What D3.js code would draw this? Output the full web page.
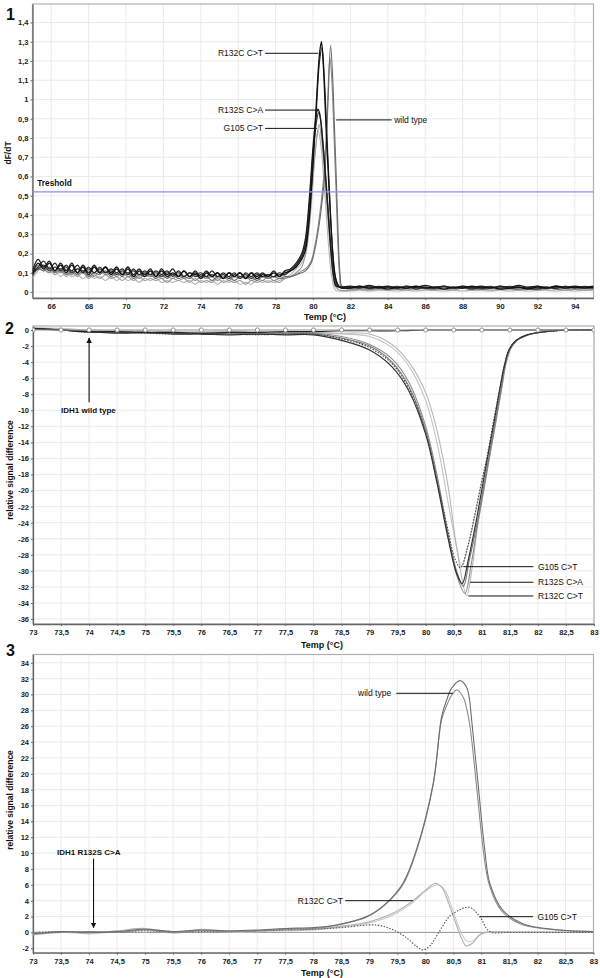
<!DOCTYPE html>
<html><head><meta charset="utf-8">
<script src="https://cdn.jsdelivr.net/npm/d3@7"></script>
<style>
body{margin:0;background:#fff}
svg{display:block}
text{font-family:"Liberation Sans",Arial,Helvetica,sans-serif}
</style>
</head><body>
<svg id="c" width="600" height="978"></svg>
<script>
// ================= DATA =================
// ---- Panel 1 : dF/dT melting peaks ----
const p1XTicks = [66,68,70,72,74,76,78,80,82,84,86,88,90,92,94];
const p1YTicks = [0,0.1,0.2,0.3,0.4,0.5,0.6,0.7,0.8,0.9,1,1.1,1.2,1.3,1.4];
const p1Threshold = 0.52;
const p1BaseStart = 65, p1BaseStep = 0.3;   // baseline samples: 65.0, 65.3 ... 79.4
const p1TailStart = 82, p1TailStep = 0.5;   // tail samples: 82.0 ... 95.0
const p1Names = ["R132C a","R132C b","wt a","wt b","R132S a","R132S b","G105 a","G105 b"];
const p1Base = [
 [0.09,0.15,0.12,0.15,0.11,0.14,0.10,0.14,0.10,0.13,0.09,0.13,0.10,0.13,0.09,0.12,0.09,0.12,0.08,0.11,0.08,0.11,0.08,0.11,0.08,0.10,0.08,0.11,0.08,0.10,0.07,0.10,0.08,0.10,0.07,0.10,0.08,0.10,0.07,0.10,0.07,0.09,0.08,0.10,0.08,0.10,0.11,0.13,0.17],
 [0.10,0.13,0.16,0.12,0.15,0.11,0.14,0.11,0.14,0.10,0.13,0.10,0.13,0.10,0.12,0.10,0.12,0.09,0.12,0.09,0.11,0.09,0.11,0.09,0.11,0.08,0.11,0.08,0.10,0.09,0.10,0.08,0.11,0.08,0.10,0.08,0.10,0.07,0.10,0.08,0.10,0.08,0.09,0.08,0.10,0.09,0.12,0.14,0.19],
 [0.08,0.12,0.11,0.13,0.10,0.12,0.09,0.11,0.09,0.11,0.08,0.10,0.09,0.11,0.08,0.10,0.08,0.10,0.07,0.09,0.08,0.09,0.07,0.09,0.07,0.09,0.07,0.08,0.07,0.09,0.07,0.08,0.06,0.08,0.07,0.08,0.06,0.08,0.07,0.08,0.06,0.08,0.07,0.08,0.07,0.08,0.08,0.09,0.10],
 [0.09,0.14,0.12,0.10,0.13,0.10,0.12,0.09,0.12,0.10,0.11,0.08,0.11,0.09,0.10,0.08,0.10,0.08,0.09,0.07,0.09,0.08,0.09,0.07,0.08,0.07,0.09,0.07,0.08,0.06,0.08,0.07,0.08,0.06,0.08,0.06,0.08,0.07,0.08,0.06,0.07,0.06,0.08,0.06,0.07,0.07,0.08,0.09,0.11],
 [0.11,0.17,0.13,0.16,0.11,0.15,0.11,0.15,0.10,0.14,0.10,0.14,0.10,0.13,0.10,0.13,0.09,0.13,0.09,0.12,0.09,0.12,0.08,0.12,0.09,0.12,0.08,0.11,0.08,0.11,0.08,0.11,0.08,0.10,0.07,0.10,0.08,0.10,0.07,0.10,0.08,0.10,0.08,0.11,0.08,0.11,0.12,0.15,0.20],
 [0.10,0.12,0.14,0.11,0.13,0.12,0.13,0.10,0.12,0.11,0.12,0.10,0.12,0.10,0.11,0.09,0.11,0.10,0.11,0.09,0.10,0.09,0.10,0.08,0.10,0.09,0.10,0.08,0.10,0.08,0.09,0.08,0.09,0.08,0.09,0.07,0.09,0.08,0.09,0.07,0.09,0.08,0.09,0.08,0.09,0.09,0.11,0.14,0.18],
 [0.08,0.13,0.11,0.12,0.09,0.11,0.08,0.10,0.08,0.10,0.07,0.09,0.07,0.09,0.07,0.08,0.06,0.08,0.06,0.08,0.06,0.07,0.06,0.07,0.05,0.07,0.06,0.07,0.05,0.07,0.05,0.06,0.05,0.07,0.05,0.06,0.05,0.06,0.04,0.06,0.05,0.06,0.05,0.06,0.05,0.07,0.08,0.10,0.13],
 [0.07,0.11,0.13,0.10,0.11,0.08,0.10,0.08,0.09,0.07,0.09,0.07,0.08,0.06,0.08,0.06,0.08,0.06,0.07,0.05,0.07,0.06,0.07,0.05,0.06,0.05,0.06,0.05,0.06,0.04,0.06,0.05,0.06,0.04,0.06,0.05,0.06,0.04,0.05,0.04,0.06,0.05,0.06,0.05,0.06,0.07,0.09,0.12,0.15]
];
const p1Peak = [
 [[79.6,0.22],[79.8,0.38],[80.0,0.68],[80.2,1.02],[80.35,1.24],[80.45,1.30],[80.55,1.18],[80.7,0.85],[80.85,0.55],[81.0,0.28],[81.15,0.10],[81.3,0.04],[81.45,0.025]],
 [[79.6,0.24],[79.8,0.40],[80.0,0.66],[80.2,0.98],[80.35,1.20],[80.48,1.27],[80.6,1.12],[80.75,0.80],[80.9,0.48],[81.05,0.22],[81.2,0.08],[81.35,0.035],[81.5,0.02]],
 [[79.6,0.11],[79.9,0.15],[80.1,0.22],[80.3,0.33],[80.5,0.48],[80.65,0.64],[80.8,0.98],[80.94,1.28],[81.05,1.12],[81.15,0.85],[81.25,0.58],[81.35,0.28],[81.45,0.09],[81.55,0.03]],
 [[79.6,0.12],[79.9,0.16],[80.1,0.24],[80.3,0.36],[80.5,0.52],[80.65,0.70],[80.78,0.98],[80.9,1.22],[81.02,1.08],[81.12,0.82],[81.22,0.56],[81.32,0.28],[81.42,0.09],[81.52,0.025]],
 [[79.6,0.28],[79.8,0.48],[80.0,0.75],[80.15,0.90],[80.26,0.95],[80.35,0.93],[80.5,0.80],[80.65,0.62],[80.8,0.42],[80.95,0.22],[81.1,0.08],[81.25,0.03]],
 [[79.6,0.26],[79.8,0.45],[80.0,0.72],[80.18,0.88],[80.3,0.93],[80.4,0.90],[80.55,0.76],[80.7,0.58],[80.85,0.38],[81.0,0.19],[81.15,0.07],[81.3,0.03]],
 [[79.6,0.20],[79.8,0.36],[80.0,0.60],[80.2,0.80],[80.33,0.87],[80.45,0.80],[80.6,0.64],[80.75,0.45],[80.9,0.26],[81.05,0.10],[81.2,0.03],[81.4,0.01]],
 [[79.6,0.19],[79.8,0.33],[80.0,0.57],[80.15,0.76],[80.27,0.84],[80.4,0.78],[80.55,0.62],[80.7,0.42],[80.85,0.22],[81.0,0.08],[81.2,0.01],[81.4,0.005]]
];
const p1Tail = [
 [0.02,0.03,0.02,0.025,0.015,0.025,0.02,0.03,0.02,0.025,0.015,0.025,0.02,0.03,0.02,0.025,0.015,0.02,0.025,0.015,0.025,0.02,0.03,0.02,0.025,0.02,0.025],
 [0.025,0.02,0.03,0.02,0.025,0.02,0.03,0.015,0.025,0.02,0.03,0.02,0.025,0.015,0.025,0.02,0.03,0.02,0.025,0.02,0.015,0.025,0.02,0.03,0.02,0.025,0.02],
 [0.02,0.025,0.015,0.02,0.025,0.015,0.02,0.025,0.02,0.015,0.025,0.02,0.02,0.025,0.015,0.02,0.025,0.02,0.015,0.025,0.02,0.025,0.015,0.02,0.025,0.02,0.02],
 [0.015,0.02,0.025,0.015,0.02,0.025,0.02,0.015,0.02,0.025,0.015,0.02,0.025,0.02,0.015,0.025,0.02,0.015,0.02,0.025,0.02,0.015,0.025,0.02,0.015,0.02,0.025],
 [0.03,0.025,0.035,0.025,0.03,0.02,0.03,0.025,0.035,0.025,0.03,0.02,0.03,0.025,0.03,0.02,0.03,0.025,0.035,0.025,0.03,0.02,0.03,0.025,0.03,0.025,0.03],
 [0.025,0.03,0.02,0.03,0.025,0.03,0.02,0.03,0.025,0.02,0.03,0.025,0.03,0.02,0.025,0.03,0.02,0.03,0.025,0.02,0.03,0.025,0.02,0.03,0.025,0.03,0.025],
 [0.01,0.015,0.01,0.02,0.01,0.015,0.01,0.02,0.015,0.01,0.015,0.01,0.02,0.01,0.015,0.01,0.015,0.02,0.01,0.015,0.01,0.02,0.015,0.01,0.015,0.01,0.015],
 [0.005,0.01,0.005,0.01,0.008,0.005,0.01,0.005,0.01,0.008,0.005,0.01,0.005,0.01,0.008,0.005,0.01,0.005,0.01,0.005,0.008,0.01,0.005,0.01,0.005,0.01,0.008]
];
const p1Labels = [
 {text:"R132C  C>T", t0:77.33, t1:80.28, v:1.24, side:"left"},
 {text:"R132S C>A",  t0:77.33, t1:80.29, v:0.945, side:"left"},
 {text:"G105 C>T",   t0:77.33, t1:80.21, v:0.85, side:"left"},
 {text:"wild type",  t0:84.34, t1:81.24, v:0.894, side:"right"}
];

// ---- Panel 2 : difference plot normalised to IDH1 wild type ----
const p23XTicks = [73,73.5,74,74.5,75,75.5,76,76.5,77,77.5,78,78.5,79,79.5,80,80.5,81,81.5,82,82.5,83];
const p2YTicks = [0,-2,-4,-6,-8,-10,-12,-14,-16,-18,-20,-22,-24,-26,-28,-30,-32,-34,-36];
const p2BaseStart = 73, p2BaseStep = 0.5;   // baseline samples 73.0 ... 77.5
const p2RefT = [73,73.5,74,74.5,75,75.5,76,76.5,77,77.5,78,78.5,79,79.5,80,80.5,81,81.5,82,82.5,83];
const p2RefV = [0,0,0,0,0,0,0,0,0,0,0,0,0,0,0,0,0,0,0,0,0];
const p2WtV  = [0.2,0.0,-0.2,-0.2,-0.3,-0.3,-0.4,-0.3,-0.3,-0.2,-0.2,-0.1,-0.1,-0.1,0,0,0,0,0,0,0];
const p2Base = [
 [0.2,0.1,-0.1,-0.2,-0.2,-0.3,-0.3,-0.2,-0.3,-0.3],
 [0.1,0.0,-0.3,-0.3,-0.4,-0.4,-0.5,-0.4,-0.5,-0.5],
 [0.2,0.0,-0.2,-0.4,-0.3,-0.5,-0.5,-0.6,-0.5,-0.6],
 [0.1,0.1,-0.2,-0.2,-0.3,-0.3,-0.4,-0.3,-0.4,-0.4],
 [0.3,0.2,0.0,-0.1,-0.1,-0.2,-0.2,-0.1,-0.2,-0.2],
 [0.2,0.0,-0.3,-0.3,-0.4,-0.5,-0.4,-0.5,-0.6,-0.5]
];
const p2Dip = [
 [[78,-0.3],[78.5,-0.4],[79,-0.5],[79.4,-1.8],[79.7,-4.0],[80.0,-7.8],[80.2,-12.5],[80.4,-19.5],[80.55,-27],[80.73,-33.1],[80.83,-29.5],[80.93,-24.2],[81.04,-19.8],[81.13,-16.2],[81.26,-11.1],[81.36,-7.1],[81.43,-4.2],[81.51,-2.4],[81.63,-1.3],[81.79,-0.7],[81.95,-0.4],[82.57,0],[83,0]],
 [[78,-0.5],[78.5,-1.0],[79,-2.0],[79.4,-4.0],[79.7,-7.0],[80.0,-12.5],[80.2,-18.5],[80.4,-25.5],[80.55,-30.0],[80.67,-31.9],[80.78,-28.6],[80.92,-23.9],[81.03,-19.6],[81.12,-16.1],[81.25,-11.0],[81.35,-7.0],[81.42,-4.2],[81.5,-2.4],[81.62,-1.3],[81.78,-0.7],[81.94,-0.4],[82.57,0],[83,0]],
 [[78,-0.6],[78.5,-1.3],[79,-2.5],[79.4,-4.6],[79.7,-7.6],[80.0,-13],[80.2,-19],[80.4,-26],[80.55,-30.3],[80.65,-31.6],[80.76,-28.6],[80.9,-23.8],[81.01,-19.5],[81.1,-16],[81.23,-11],[81.33,-7.0],[81.41,-4.2],[81.49,-2.4],[81.61,-1.3],[81.77,-0.7],[81.93,-0.4],[82.57,0],[83,0]],
 [[78,-0.4],[78.5,-0.8],[79,-1.8],[79.4,-3.6],[79.7,-6.5],[80.0,-12],[80.2,-18],[80.4,-25.5],[80.55,-30.5],[80.7,-32.8],[80.81,-29.2],[80.93,-24],[81.04,-19.7],[81.13,-16.1],[81.26,-11],[81.36,-7.0],[81.43,-4.2],[81.51,-2.4],[81.63,-1.3],[81.79,-0.7],[81.95,-0.4],[82.57,0],[83,0]],
 [[78,-0.3],[78.5,-0.5],[79,-0.8],[79.4,-2.2],[79.7,-4.5],[80.0,-8.8],[80.2,-14],[80.4,-21.5],[80.55,-27],[80.64,-29.5],[80.76,-26.8],[80.88,-23],[81.0,-19],[81.1,-15.8],[81.23,-10.9],[81.33,-7.0],[81.41,-4.2],[81.49,-2.4],[81.61,-1.3],[81.77,-0.7],[81.93,-0.4],[82.57,0],[83,0]],
 [[78,-0.5],[78.5,-1.1],[79,-2.2],[79.4,-4.2],[79.7,-7.3],[80.0,-12.8],[80.2,-18.8],[80.4,-25],[80.52,-28.5],[80.62,-29.6],[80.74,-27.2],[80.87,-23.2],[80.99,-19.1],[81.09,-15.9],[81.22,-10.9],[81.33,-7.0],[81.41,-4.2],[81.49,-2.4],[81.61,-1.3],[81.77,-0.7],[81.93,-0.4],[82.57,0],[83,0]]
];
const p2Labels = [
 {text:"G105 C>T",  t0:82.0, t1:80.67, v:-29.48},
 {text:"R132S C>A", t0:82.0, t1:80.79, v:-31.42},
 {text:"R132C C>T", t0:82.0, t1:80.76, v:-33.13}
];

// ---- Panel 3 : difference plot normalised to IDH1 R132S C>A ----
const p3YTicks = [-2,0,2,4,6,8,10,12,14,16,18,20,22,24,26,28,30,32,34];
const p3RefV = [0,0,0,0,0,0,0,0,0,0,0,0,0,0,0,0,0,0,0,0,0];
const p3Base = [
 [-0.2,0.1,0.0,0.1,0.4,0.1,0.3,0.2,0.3,0.5],
 [-0.1,0.0,0.1,0.0,0.3,0.0,0.2,0.1,0.2,0.4],
 [-0.3,0.0,-0.1,0.2,0.5,0.0,0.4,0.1,0.2,0.3],
 [-0.2,0.1,-0.2,0.1,0.4,-0.1,0.3,0.0,0.1,0.2],
 [0.0,0.1,0.0,0.0,0.2,0.0,0.1,0.1,0.2,0.3]
];
const p3Main = [
 [[78,0.6],[78.41,0.93],[78.95,2.0],[79.3,3.67],[79.6,6.2],[79.84,10.4],[80.14,18.8],[80.29,27.2],[80.38,29.3],[80.47,30.8],[80.62,31.74],[80.73,31.0],[80.79,29.3],[80.82,27.2],[80.94,18.8],[81.06,10.4],[81.15,6.2],[81.38,2.8],[81.74,1.1],[82.39,0.3],[83,0.1]],
 [[78,0.5],[78.41,0.9],[78.95,1.9],[79.3,3.6],[79.6,6.0],[79.84,10.2],[80.14,18.6],[80.29,26.8],[80.38,28.6],[80.47,29.9],[80.56,30.57],[80.68,29.6],[80.75,27.8],[80.8,25.8],[80.92,18.0],[81.04,10.0],[81.14,6.0],[81.36,2.7],[81.72,1.0],[82.39,0.3],[83,0.1]],
 [[78,0.4],[78.41,0.7],[79.0,1.35],[79.42,2.4],[79.78,4.0],[80.0,5.3],[80.18,6.19],[80.3,5.6],[80.42,3.6],[80.55,1.0],[80.65,-0.8],[80.73,-1.7],[80.85,-1.3],[80.95,-0.4],[81.05,0],[81.5,0.05],[83,0]],
 [[78,0.3],[78.41,0.6],[79.0,1.2],[79.42,2.2],[79.78,3.8],[80.0,5.2],[80.22,6.0],[80.35,5.3],[80.47,3.2],[80.6,0.6],[80.7,-0.8],[80.78,-1.2],[80.88,-0.9],[80.98,-0.3],[81.1,0],[81.5,0.05],[83,0]],
 [[78,0.4],[78.5,0.6],[79.13,0.93],[79.4,0.4],[79.65,-0.6],[79.85,-1.8],[79.96,-2.2],[80.08,-1.7],[80.24,0],[80.43,2.0],[80.6,2.8],[80.79,3.16],[80.97,2.0],[81.15,0.1],[81.5,0],[83,0]]
];
const p3Labels = [
 {text:"wild type", t0:79.39, t1:80.49, v:30.15, side:"left", t0line:79.48},
 {text:"R132C C>T", t0:78.53, t1:79.78, v:4.0,  side:"left", t0line:78.57},
 {text:"G105 C>T",  t0:82.0,  t1:80.97, v:1.98, side:"right", t0line:81.92}
];

// ================= DRAWING =================
const svg = d3.select("#c");
const comma = v => String(v).replace(".", ",");
const FONT = '"Liberation Sans",Arial,sans-serif';

function makePanel(o){
  const x = d3.scaleLinear().domain(o.xd).range([o.l, o.r]);
  const y = d3.scaleLinear().domain(o.yd).range([o.b, o.t]);
  const g = svg.append("g");
  const cid = "clip" + o.id;
  svg.append("defs").append("clipPath").attr("id", cid)
     .append("rect").attr("x", o.l).attr("y", o.t).attr("width", o.r - o.l).attr("height", o.b - o.t);
  g.append("g").selectAll("line").data(o.xt).join("line")
    .attr("x1", d => x(d)).attr("x2", d => x(d)).attr("y1", o.t).attr("y2", o.b)
    .attr("stroke", "#ebebeb").attr("stroke-width", 1);
  g.append("g").selectAll("line").data(o.yt).join("line")
    .attr("y1", d => y(d)).attr("y2", d => y(d)).attr("x1", o.l).attr("x2", o.r)
    .attr("stroke", "#ebebeb").attr("stroke-width", 1);
  g.append("rect").attr("x", o.l).attr("y", o.t).attr("width", o.r - o.l).attr("height", o.b - o.t)
    .attr("fill", "none").attr("stroke", "#b0b0b0").attr("stroke-width", 1.2);
  const ax = g.append("g").attr("transform", `translate(0,${o.b})`)
    .call(d3.axisBottom(x).tickValues(o.xt).tickFormat(comma).tickSize(2).tickSizeOuter(0).tickPadding(4));
  const ay = g.append("g").attr("transform", `translate(${o.l},0)`)
    .call(d3.axisLeft(y).tickValues(o.yt).tickFormat(comma).tickSize(2).tickSizeOuter(0).tickPadding(2));
  [ax, ay].forEach(a => {
    a.select(".domain").attr("stroke", "#666").attr("stroke-width", 1.3);
    a.selectAll(".tick line").attr("stroke", "#666");
    a.selectAll("text").attr("font-family", FONT).attr("font-size", 7.5).attr("font-weight", "bold").attr("fill", "#222");
  });
  const plot = svg.append("g").attr("clip-path", `url(#${cid})`);
  const line = d3.line().x(d => x(d[0])).y(d => y(d[1])).curve(d3.curveCatmullRom.alpha(0.5));
  return {x, y, g, plot, line};
}

function label(sel, txt, x, y, anchor, opts = {}){
  sel.append("text").attr("x", x).attr("y", y).attr("text-anchor", anchor)
    .attr("font-family", FONT).attr("font-size", opts.size || 8.5)
    .attr("font-weight", opts.bold ? "bold" : "normal").attr("fill", opts.fill || "#111")
    .text(txt);
}

svg.append("defs").append("marker").attr("id", "arr").attr("viewBox", "0 0 10 10")
  .attr("refX", 9).attr("refY", 5).attr("markerWidth", 5).attr("markerHeight", 6).attr("orient", "auto")
  .append("path").attr("d", "M0,0L10,5L0,10Z").attr("fill", "#111");

// ---------- Panel 1 ----------
const P1 = makePanel({id:1, xd:[65,95], yd:[-0.031,1.496], l:32.5, r:593.5, t:4, b:298, xt:p1XTicks, yt:p1YTicks});
const p1Style = [
  {c:"#111", w:1.3},{c:"#2a2a2a", w:1.2},{c:"#6a6a6a", w:1.1},{c:"#888", w:1.1},
  {c:"#1c1c1c", w:1.3},{c:"#3c3c3c", w:1.2},{c:"#9a9a9a", w:1.1},{c:"#b5b5b5", w:1.1}
];
const p1Series = p1Names.map((n, k) => {
  const pk = p1Peak[k];
  const base = p1Base[k].map((v, i) => [p1BaseStart + p1BaseStep * i, v]).filter(p => p[0] < pk[0][0] - 0.05);
  const tail = p1Tail[k].map((v, i) => [p1TailStart + p1TailStep * i, v]).filter(p => p[0] > pk[pk.length - 1][0] + 0.1);
  return base.concat(pk, tail);
});
[7,6,3,2,5,4,1,0].forEach(k => {
  P1.plot.append("path").datum(p1Series[k]).attr("d", P1.line)
    .attr("fill", "none").attr("stroke", p1Style[k].c).attr("stroke-width", p1Style[k].w);
});
P1.plot.append("line").attr("x1", P1.x(65)).attr("x2", P1.x(95))
  .attr("y1", P1.y(p1Threshold)).attr("y2", P1.y(p1Threshold))
  .attr("stroke", "#8f8ff0").attr("stroke-width", 1.3);
label(svg, "Treshold", P1.x(65.25), P1.y(p1Threshold) - 5.5, "start", {bold:true, size:8.3});
p1Labels.forEach(L => {
  const yy = P1.y(L.v);
  if (L.side === "left") {
    svg.append("line").attr("x1", P1.x(L.t0) + 2).attr("x2", P1.x(L.t1)).attr("y1", yy).attr("y2", yy).attr("stroke", "#111").attr("stroke-width", 1);
    label(svg, L.text, P1.x(L.t0), yy + 3, "end");
  } else {
    svg.append("line").attr("x1", P1.x(L.t1)).attr("x2", P1.x(L.t0) - 2.5).attr("y1", yy).attr("y2", yy).attr("stroke", "#111").attr("stroke-width", 1);
    label(svg, L.text, P1.x(L.t0), yy + 3, "start");
  }
});
label(svg, "Temp (°C)", 325, 320, "middle", {bold:true, size:9});
svg.append("text").attr("transform", "translate(11,153) rotate(-90)").attr("text-anchor", "middle")
  .attr("font-family", FONT).attr("font-size", 8.5).attr("font-weight", "bold").attr("fill", "#111").text("dF/dT");
label(svg, "1", 6, 20, "start", {bold:true, size:16});

// ---------- Panel 2 ----------
const P2 = makePanel({id:2, xd:[73,83], yd:[-36.62,0.5], l:33, r:594, t:326, b:624, xt:p23XTicks, yt:p2YTicks});
const p2Style = [
  {c:"#b8b8b8", w:1.1, d:null},{c:"#7a7a7a", w:1.1, d:null},{c:"#333", w:1.2, d:null},
  {c:"#8c8c8c", w:1.1, d:null},{c:"#c4c4c4", w:1.1, d:null},{c:"#444", w:1.1, d:"1.5,1.5"}
];
const p2Series = p2Dip.map((dip, k) => p2Base[k].map((v, i) => [p2BaseStart + p2BaseStep * i, v]).concat(dip));
[4,0,3,1,5,2].forEach(k => {
  P2.plot.append("path").datum(p2Series[k]).attr("d", P2.line)
    .attr("fill", "none").attr("stroke", p2Style[k].c).attr("stroke-width", p2Style[k].w)
    .attr("stroke-dasharray", p2Style[k].d);
});
const p2Wt = p2RefT.map((t, i) => [t, p2WtV[i]]);
P2.plot.append("path").datum(p2Wt).attr("d", P2.line).attr("fill", "none").attr("stroke", "#222").attr("stroke-width", 1.1);
const p2Ref = p2RefT.map((t, i) => [t, p2RefV[i]]);
P2.plot.append("path").datum(p2Ref).attr("d", P2.line).attr("fill", "none").attr("stroke", "#999").attr("stroke-width", 1);
P2.plot.selectAll("circle.ref").data(p2Ref).join("circle").attr("class", "ref")
  .attr("cx", d => P2.x(d[0])).attr("cy", d => P2.y(d[1])).attr("r", 2.1)
  .attr("fill", "#fff").attr("stroke", "#888").attr("stroke-width", 0.9);
p2Labels.forEach(L => {
  const yy = P2.y(L.v);
  svg.append("line").attr("x1", P2.x(L.t1)).attr("x2", P2.x(L.t0) - 4.5).attr("y1", yy).attr("y2", yy).attr("stroke", "#111").attr("stroke-width", 1);
  label(svg, L.text, P2.x(L.t0), yy + 3, "start");
});
svg.append("line").attr("x1", P2.x(74)).attr("x2", P2.x(74)).attr("y1", P2.y(-9)).attr("y2", P2.y(-1))
  .attr("stroke", "#111").attr("stroke-width", 1.1).attr("marker-end", "url(#arr)");
label(svg, "IDH1 wild type", P2.x(73.5), P2.y(-10.3), "start", {bold:true, size:8});
label(svg, "Temp (°C)", 322, 648, "middle", {bold:true, size:9});
svg.append("text").attr("transform", "translate(13,470) rotate(-90)").attr("text-anchor", "middle")
  .attr("font-family", FONT).attr("font-size", 8.5).attr("font-weight", "bold").attr("fill", "#111").text("relative signal difference");
label(svg, "2", 5, 334, "start", {bold:true, size:16});

// ---------- Panel 3 ----------
const P3 = makePanel({id:3, xd:[73,83], yd:[-2.56,35.04], l:33, r:593.5, t:654.5, b:952.7, xt:p23XTicks, yt:p3YTicks});
const p3Style = [
  {c:"#6e6e6e", w:1.1, d:null},{c:"#8a8a8a", w:1.1, d:null},
  {c:"#b0b0b0", w:1.1, d:null},{c:"#c8c8c8", w:1.1, d:null},{c:"#555", w:1.1, d:"1.5,1.5"}
];
const p3RefLine = p2RefT.map((t, i) => [t, p3RefV[i]]);
P3.plot.append("path").datum(p3RefLine).attr("d", P3.line).attr("fill", "none").attr("stroke", "#999").attr("stroke-width", 1);
const p3Series = p3Main.map((m, k) => p3Base[k].map((v, i) => [p2BaseStart + p2BaseStep * i, v]).concat(m));
[3,2,4,1,0].forEach(k => {
  P3.plot.append("path").datum(p3Series[k]).attr("d", P3.line)
    .attr("fill", "none").attr("stroke", p3Style[k].c).attr("stroke-width", p3Style[k].w)
    .attr("stroke-dasharray", p3Style[k].d);
});
p3Labels.forEach(L => {
  const yy = P3.y(L.v);
  svg.append("line").attr("x1", P3.x(L.t0line)).attr("x2", P3.x(L.t1)).attr("y1", yy).attr("y2", yy).attr("stroke", "#111").attr("stroke-width", 1);
  label(svg, L.text, P3.x(L.t0), yy + 3, L.side === "left" ? "end" : "start");
});
svg.append("line").attr("x1", P3.x(74.08)).attr("x2", P3.x(74.08)).attr("y1", P3.y(9.3)).attr("y2", P3.y(0.6))
  .attr("stroke", "#111").attr("stroke-width", 1.1).attr("marker-end", "url(#arr)");
label(svg, "IDH1 R132S C>A", P3.x(73.43), P3.y(9.8), "start", {bold:true, size:8});
label(svg, "Temp (°C)", 322, 976, "middle", {bold:true, size:9});
svg.append("text").attr("transform", "translate(13,800) rotate(-90)").attr("text-anchor", "middle")
  .attr("font-family", FONT).attr("font-size", 8.5).attr("font-weight", "bold").attr("fill", "#111").text("relative signal difference");
label(svg, "3", 6, 656, "start", {bold:true, size:16});
</script>
</body></html>
